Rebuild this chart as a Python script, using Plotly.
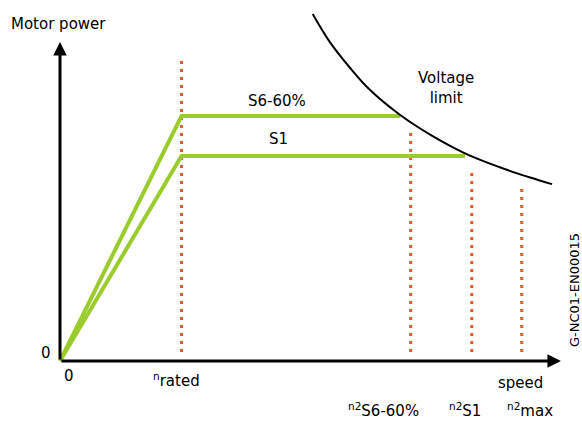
import plotly.graph_objects as go

# ---- data (speed in units of n_rated, power in units of S1 rated power) ----
n_rated = 1.0
n2_s6 = 2.886
n2_s1 = 3.389
n2_max = 3.80

p_s1 = 1.0
p_s6 = 1.195
s6_end = 2.80
s1_end = 3.333

s6_speed = [0.0, n_rated, s6_end]
s6_power = [0.0, p_s6, p_s6]
s1_speed = [0.0, n_rated, s1_end]
s1_power = [0.0, p_s1, p_s1]

curve_speed = [2.08, 2.22, 2.39, 2.55, 2.80, 3.05, 3.333, 3.62, 3.87, 4.05]
curve_power = [1.693, 1.557, 1.428, 1.323, 1.200, 1.103, 1.013, 0.945, 0.895, 0.863]

marker_speeds = [n_rated, n2_s6, n2_s1, n2_max]
marker_tops = [1.468, 1.117, 0.941, 0.854]
marker_bottom = 0.044

x_arrow_tip = 4.123
y_arrow_tip = 1.556

GREEN = "#9BCB2C"
RED = "#E85A2A"
FONT = "DejaVu Sans"

# pixel -> data helpers for text placement
W, H = 582, 427
OX, OY = 60, 361
SX, SY = 121.5, 205.0
def dx(px):
    return (px - OX) / SX
def dy(py):
    return (OY - py) / SY

fig = go.Figure()

for xs, top in zip(marker_speeds, marker_tops):
    fig.add_trace(go.Scatter(x=[xs, xs], y=[marker_bottom, top], mode="lines",
                             line=dict(color=RED, width=3, dash="3px,5px"),
                             hoverinfo="skip", showlegend=False))

fig.add_trace(go.Scatter(x=s6_speed, y=s6_power, mode="lines",
                         line=dict(color=GREEN, width=4), showlegend=False))
fig.add_trace(go.Scatter(x=s1_speed, y=s1_power, mode="lines",
                         line=dict(color=GREEN, width=4), showlegend=False))
fig.add_trace(go.Scatter(x=curve_speed, y=curve_power, mode="lines",
                         line=dict(color="black", width=2, shape="spline", smoothing=1.0),
                         showlegend=False))

annotations = [
    # axes arrows
    dict(x=x_arrow_tip, y=0, ax=0, ay=0, xref="x", yref="y", axref="x", ayref="y",
         showarrow=True, arrowhead=2, arrowwidth=3, arrowsize=0.9, arrowcolor="black", text=""),
    dict(x=0, y=y_arrow_tip, ax=0, ay=0, xref="x", yref="y", axref="x", ayref="y",
         showarrow=True, arrowhead=2, arrowwidth=3, arrowsize=0.9, arrowcolor="black", text=""),
    dict(x=dx(9), y=dy(24), text="Motor power", xanchor="left", font=dict(size=15)),
    dict(x=dx(46), y=dy(353), text="0"),
    dict(x=dx(69), y=dy(376), text="0"),
    dict(x=n_rated, y=dy(380), text="<sup>n</sup>rated", xshift=-5),
    dict(x=dx(520), y=dy(383), text="speed"),
    dict(x=n2_s6, y=dy(410), text="<sup>n2</sup>S6-60%", xshift=-27),
    dict(x=n2_s1, y=dy(410), text="<sup>n2</sup>S1", xshift=-7),
    dict(x=n2_max, y=dy(410), text="<sup>n2</sup>max", xshift=8),
    dict(x=dx(277), y=dy(101), text="S6-60%"),
    dict(x=dx(278), y=dy(139), text="S1"),
    dict(x=dx(446), y=dy(88), text="Voltage<br>limit"),
    dict(x=dx(574), y=dy(290), text="G-NC01-EN00015", textangle=-90, font=dict(size=13)),
]
for a in annotations:
    a.setdefault("xref", "x")
    a.setdefault("yref", "y")
    a.setdefault("showarrow", False)
    f = a.setdefault("font", {})
    f.setdefault("size", 15)
    f.setdefault("family", FONT)
    f.setdefault("color", "black")

fig.update_layout(
    width=W, height=H,
    margin=dict(l=0, r=0, t=0, b=0),
    paper_bgcolor="white", plot_bgcolor="white",
    xaxis=dict(range=[dx(0), dx(W)], visible=False, fixedrange=True),
    yaxis=dict(range=[dy(H), dy(0)], visible=False, fixedrange=True),
    annotations=annotations,
    font=dict(family=FONT),
)

fig.write_html("out.html", config={"displayModeBar": False},
               post_script="document.body.style.margin='0';document.body.style.overflow='hidden';")
